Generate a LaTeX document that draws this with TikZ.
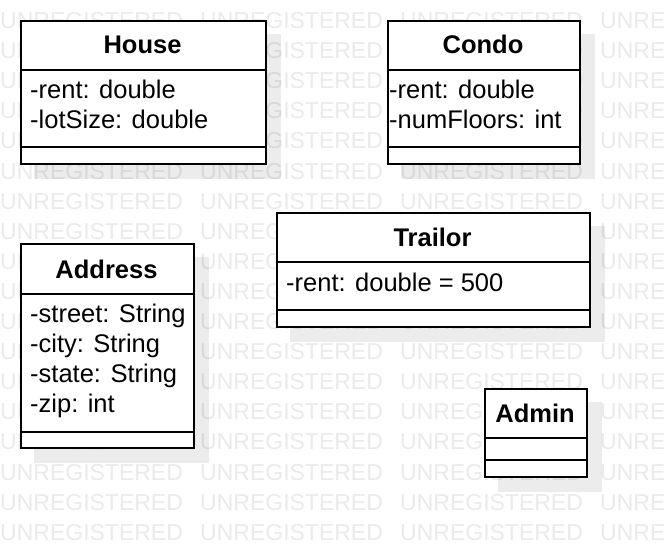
\documentclass[tikz,border=0pt]{standalone}
\usepackage{fontspec}
\setmainfont{Liberation Sans}
\usetikzlibrary{backgrounds,calc}
\definecolor{wmgray}{HTML}{EAEAEA}
\tikzset{
  x=1pt, y=-1pt,
  cls/.style={draw=black, line width=2.2pt, fill=white, inner sep=0pt, anchor=north west},
  sep/.style={draw=black, line width=2.2pt},
  shade/.style={fill=black, fill opacity=0.075},
  ctitle/.style={font=\bfseries\fontsize{25.5}{30}\selectfont, inner sep=0pt, anchor=base},
  attr/.style={font=\fontsize{25.5}{30}\selectfont, inner sep=0pt, anchor=base west},
  wm/.style={font=\fontsize{23}{28}\selectfont, text=wmgray, inner sep=0pt, anchor=base west}
}
\begin{document}
\begin{tikzpicture}
\useasboundingbox (0,0) rectangle (668,556);
% class boxes
\node[cls, minimum width=245pt, minimum height=143pt] (house) at (20,20) {};
\node[cls, minimum width=192pt, minimum height=143pt] (condo) at (387,20) {};
\node[cls, minimum width=173pt, minimum height=204pt] (address) at (20,243) {};
\node[cls, minimum width=313pt, minimum height=114pt] (trailor) at (276,212) {};
\node[cls, minimum width=102pt, minimum height=88pt] (admin) at (484,388) {};
% compartments
\draw[sep] ([yshift=-50pt]house.north west) -- ([yshift=-50pt]house.north east);
\draw[sep] ([yshift=18pt]house.south west) -- ([yshift=18pt]house.south east);
\draw[sep] ([yshift=-50pt]condo.north west) -- ([yshift=-50pt]condo.north east);
\draw[sep] ([yshift=18pt]condo.south west) -- ([yshift=18pt]condo.south east);
\draw[sep] ([yshift=-51pt]address.north west) -- ([yshift=-51pt]address.north east);
\draw[sep] ([yshift=17pt]address.south west) -- ([yshift=17pt]address.south east);
\draw[sep] ([yshift=-50pt]trailor.north west) -- ([yshift=-50pt]trailor.north east);
\draw[sep] ([yshift=18pt]trailor.south west) -- ([yshift=18pt]trailor.south east);
\draw[sep] ([yshift=-50pt]admin.north west) -- ([yshift=-50pt]admin.north east);
\draw[sep] ([yshift=18pt]admin.south west) -- ([yshift=18pt]admin.south east);
% titles
\node[ctitle] (houseT) at (142.5,54) {House};
\node[ctitle] (condoT) at (483,54) {Condo};
\node[ctitle] (addressT) at (106.5,278) {Address};
\node[ctitle] (trailorT) at (432.5,246) {Trailor};
\node[ctitle] (adminT) at (535,422) {Admin};
% attributes
\node[attr] (h1) at (30,99) {-rent: double};
\node[attr] (h2) at (30,129) {-lotSize: double};
\node[attr] (c1) at (389,99) {-rent: double};
\node[attr] (c2) at (389,129) {-numFloors: int};
\node[attr] (a1) at (30,322) {-street: String};
\node[attr] (a2) at (30,352) {-city: String};
\node[attr] (a3) at (30,382) {-state: String};
\node[attr] (a4) at (30,412) {-zip: int};
\node[attr] (t1) at (286,291) {-rent: double = 500};
% background: watermark and shadows
\begin{scope}[on background layer]
  \clip (0,0) rectangle (668,556);
  \foreach \r in {0,...,17} {
    \foreach \c in {0,1,2} {
      \node[wm] (wm-\r-\c) at (200*\c, 28.5+30.1*\r) {UNREGISTERED};
    }
    \node[wm] (wm-\r-3) at (600, 28.5+30.1*\r) {UNRE};
  }
  \foreach \b in {house,condo,address,trailor,admin} {
    \fill[shade] ([shift={(14pt,-14pt)}]\b.north west) rectangle ([shift={(14pt,-14pt)}]\b.south east);
  }
\end{scope}
\end{tikzpicture}
\end{document}
